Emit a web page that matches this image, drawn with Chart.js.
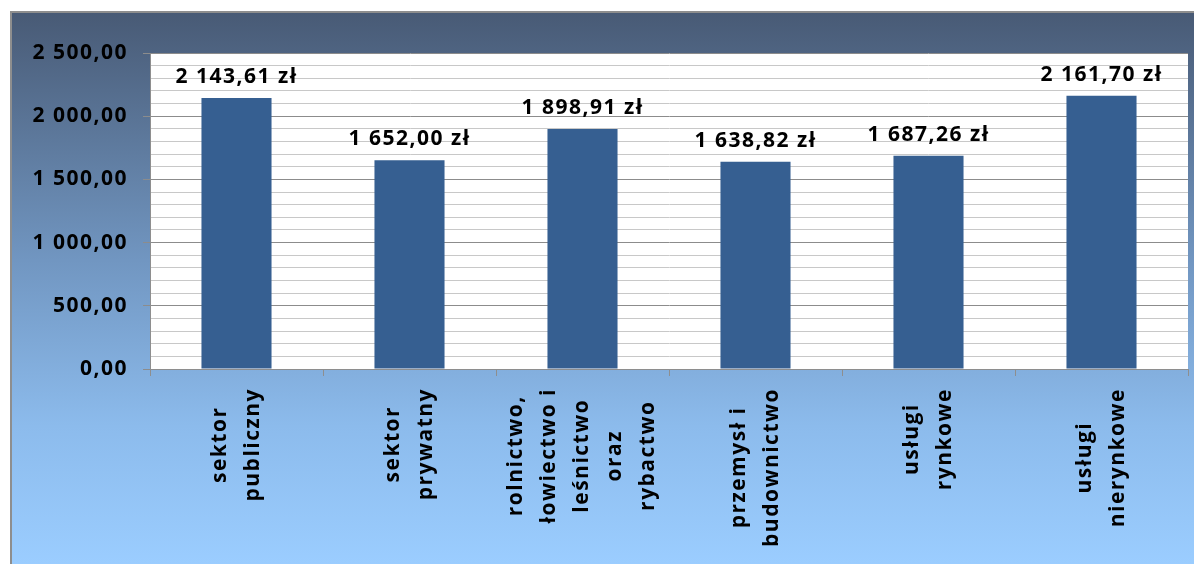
<!DOCTYPE html>
<html>
<head>
<meta charset="utf-8">
<script src="https://cdn.jsdelivr.net/npm/chart.js@4"></script>
<style>
  html, body { margin: 0; padding: 0; background: #fff; }
  #wrap { width: 1194px; height: 564px; }
</style>
</head>
<body>
<div id="wrap"><canvas id="chart"></canvas></div>
<script>
// data
const categories = [
  ['sektor', 'publiczny'],
  ['sektor', 'prywatny'],
  ['rolnictwo,', 'łowiectwo i', 'leśnictwo', 'oraz', 'rybactwo'],
  ['przemysł i', 'budownictwo'],
  ['usługi', 'rynkowe'],
  ['usługi', 'nierynkowe'],
];
const salaries = [2143.61, 1652.00, 1898.91, 1638.82, 1687.26, 2161.70];
const yMax = 2500;
const yMajorStep = 500;

const FONT = '"Open Sans", "DejaVu Sans", sans-serif';
const FONT_SIZE = 21;
const SPACING = '1.5px';

/** "2143.61" -> "2 143,61" */
function plNumber(v) {
  const [int, dec] = v.toFixed(2).split('.');
  return int.replace(/\B(?=(\d{3})+(?!\d))/g, ' ') + ',' + dec;
}

const isMajor = v => v % yMajorStep === 0;

/** Gradient frame, white plot area and letter spacing */
const framePlugin = {
  id: 'frame',
  beforeDraw(chart) {
    const { ctx, chartArea: a } = chart;
    const g = ctx.createLinearGradient(0, 12, 0, 564);
    g.addColorStop(0, '#485a75');
    g.addColorStop(0.45, '#7196c1');
    g.addColorStop(0.75, '#8cbbec');
    g.addColorStop(1, '#9bcdff');
    ctx.save();
    ctx.fillStyle = g;
    ctx.fillRect(10, 11, 1194, 564);
    ctx.fillStyle = '#8e8e8e';
    ctx.fillRect(10, 11, 1194, 2);
    ctx.fillRect(10, 11, 2, 564);
    ctx.fillStyle = '#ffffff';
    ctx.fillRect(a.left, a.top, a.right - a.left, a.bottom - a.top);
    ctx.restore();
    ctx.letterSpacing = SPACING;
  },
};

/** Value labels above bars and rotated, centred category labels */
const labelsPlugin = {
  id: 'labels',
  afterDraw(chart) {
    const { ctx } = chart;
    const meta = chart.getDatasetMeta(0);
    const xScale = chart.scales.x;
    ctx.save();
    ctx.letterSpacing = SPACING;
    ctx.fillStyle = '#000';
    ctx.font = `bold ${FONT_SIZE}px ${FONT}`;
    ctx.textAlign = 'center';
    ctx.textBaseline = 'alphabetic';
    meta.data.forEach((bar, i) => {
      ctx.fillText(plNumber(salaries[i]) + ' zł', bar.x, bar.y - 15);
    });

    ctx.textBaseline = 'middle';
    const lineH = 33;
    categories.forEach((lines, i) => {
      const cx = xScale.getPixelForValue(i);
      const w = Math.max(...lines.map(l => ctx.measureText(l).width));
      const cy = xScale.top + 19 + w / 2;
      ctx.save();
      ctx.translate(cx, cy);
      ctx.rotate(-Math.PI / 2);
      lines.forEach((l, k) => {
        ctx.fillText(l, 0, (k - (lines.length - 1) / 2) * lineH);
      });
      ctx.restore();
    });
    ctx.restore();
  },
};

new Chart(document.getElementById('chart'), {
  type: 'bar',
  data: {
    labels: categories.map(c => c.join(' ')),
    datasets: [{
      data: salaries,
      backgroundColor: '#365f91',
      borderWidth: 0,
      categoryPercentage: 1,
      barPercentage: 0.405,
    }],
  },
  options: {
    responsive: true,
    maintainAspectRatio: false,
    animation: false,
    layout: { padding: { left: 0, top: 53, right: 6, bottom: 0 } },
    plugins: {
      legend: { display: false },
      tooltip: { enabled: false },
    },
    scales: {
      x: {
        afterFit(s) { s.height = 195; },
        ticks: { display: false },
        grid: {
          offset: true,
          drawOnChartArea: false,
          tickLength: 7,
          tickColor: '#8e8e8e',
        },
        border: { color: '#8e8e8e', width: 1 },
      },
      y: {
        min: 0,
        max: yMax,
        afterFit(s) { s.width = 150; },
        ticks: {
          stepSize: 100,
          autoSkip: false,
          padding: 15,
          color: '#000',
          font: { family: FONT, size: FONT_SIZE, weight: 'bold' },
          callback: v => (isMajor(v) ? plNumber(v) : ''),
        },
        grid: {
          tickLength: 7,
          color: ctx => (isMajor(ctx.tick.value) ? '#8c8c8c' : '#c8c8c8'),
          tickColor: ctx => (isMajor(ctx.tick.value) ? '#8c8c8c' : 'transparent'),
        },
        border: { color: '#8e8e8e', width: 1 },
      },
    },
  },
  plugins: [framePlugin, labelsPlugin],
});
</script>
</body>
</html>
